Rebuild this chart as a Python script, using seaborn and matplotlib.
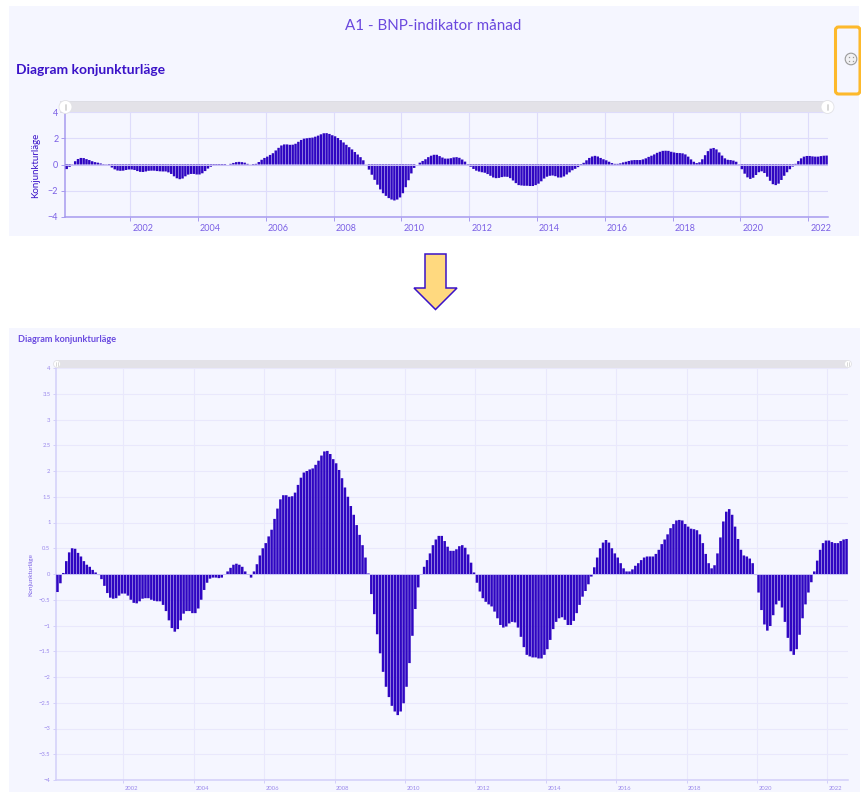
import matplotlib
matplotlib.use("Agg")
import matplotlib.pyplot as plt
import matplotlib.transforms as mtrans
from matplotlib.patches import Rectangle, Polygon, Circle, FancyBboxPatch
import numpy as np
import pandas as pd
import seaborn as sns

values_2000_2006 = [
 -0.35,-0.18,0.02,0.25,0.42,0.50,0.49,0.41,0.34,0.25,0.18,0.14,0.08,0.03,-0.02,-0.10,
 -0.23,-0.37,-0.46,-0.48,-0.47,-0.42,-0.38,-0.38,-0.42,-0.50,-0.56,-0.57,-0.53,-0.48,
 -0.47,-0.47,-0.50,-0.52,-0.53,-0.53,-0.60,-0.72,-0.90,-1.05,-1.12,-1.07,-0.90,-0.77,
 -0.72,-0.72,-0.76,-0.76,-0.67,-0.50,-0.31,-0.17,-0.09,-0.07,-0.07,-0.08,-0.07,0.00,
 0.05,0.12,0.18,0.20,0.18,0.14,0.05,-0.01,-0.07,0.05,0.19,0.36,0.50,0.60,0.73,0.86,1.07,1.27]
values_2006_2014 = [
 1.45,1.53,1.53,1.50,1.51,1.58,1.73,1.87,1.97,2.00,2.03,2.05,2.12,2.20,2.30,2.38,2.39,
 2.33,2.23,2.15,2.02,1.86,1.68,1.50,1.32,1.15,0.95,0.76,0.56,0.32,0.01,-0.39,-0.78,
 -1.17,-1.54,-1.90,-2.19,-2.39,-2.56,-2.67,-2.74,-2.67,-2.51,-2.19,-1.73,-1.20,-0.68,
 -0.26,0.00,0.14,0.27,0.40,0.56,0.67,0.74,0.74,0.64,0.53,0.45,0.45,0.48,0.54,0.56,0.51,
 0.38,0.22,0.03,-0.17,-0.34,-0.47,-0.54,-0.59,-0.63,-0.73,-0.86,-0.99,-1.04,-1.02,-0.96,
 -0.93,-0.94,-1.04,-1.22,-1.42,-1.57,-1.60,-1.62,-1.62,-1.64,-1.64,-1.57,-1.46,-1.28,
 -1.07,-0.93,-0.86]
values_2014_2022 = [
 -0.84,-0.89,-0.99,-0.99,-0.91,-0.76,-0.60,-0.44,-0.33,-0.20,-0.05,0.13,0.32,0.50,0.61,
 0.66,0.61,0.50,0.40,0.32,0.21,0.11,0.05,0.05,0.09,0.16,0.21,0.27,0.32,0.34,0.34,0.34,
 0.39,0.47,0.58,0.67,0.77,0.89,0.97,1.04,1.05,1.04,0.97,0.92,0.88,0.87,0.85,0.77,0.60,
 0.39,0.21,0.11,0.17,0.40,0.71,1.02,1.21,1.26,1.15,0.92,0.68,0.47,0.36,0.34,0.30,0.21,
 -0.02,-0.36,-0.70,-0.98,-1.10,-1.01,-0.80,-0.59,-0.52,-0.65,-0.93,-1.24,-1.50,-1.57,
 -1.46,-1.18,-0.86,-0.59,-0.36,-0.16,0.05,0.26,0.47,0.60,0.65,0.65,0.62,0.60,0.60,0.64,
 0.67,0.68]
values = values_2000_2006 + values_2006_2014 + values_2014_2022
months = pd.date_range("2000-02-01", periods=len(values), freq="MS").strftime("%Y-%m").tolist()
year_ticks = [str(y) for y in range(2002, 2023, 2)]
y_small = [-4, -2, 0, 2, 4]
y_large = [v / 2 for v in range(-8, 9)]
y_label = "Konjunkturläge"
page_title = "A1 - BNP-indikator månad"
panel_title = "Diagram konjunkturläge"

W, H = 862, 792
BAR = "#2F06C2"
sns.set_style("white")
plt.rcParams["font.family"] = ["Lato", "DejaVu Sans"]

df = pd.DataFrame({"month": months, "value": values})
fig = plt.figure(figsize=(W / 100, H / 100), dpi=100, facecolor="white")


def px_axes(l, t, r, b, **kw):
    return fig.add_axes([l / W, 1 - b / H, (r - l) / W, (b - t) / H], **kw)


bg = px_axes(0, 0, W, H, zorder=-1)
bg.set_xlim(0, W); bg.set_ylim(H, 0); bg.axis("off")
fg = px_axes(0, 0, W, H, zorder=5)
fg.set_xlim(0, W); fg.set_ylim(H, 0); fg.axis("off"); fg.patch.set_alpha(0)

bg.add_patch(Rectangle((9, 6), 850, 230, fc="#F5F6FF", ec="none"))
bg.add_patch(Rectangle((9, 328), 851, 464, fc="#F5F6FF", ec="none"))
bg.add_patch(Rectangle((60, 101), 770, 11, fc="#E3E2E8", ec="#D8D8DE", lw=0.5))
bg.add_patch(Rectangle((57, 360), 791, 8, fc="#E3E2E8", ec="none"))


def draw(rect, yticks, grid, line, tsize, tlen, txt, lab_dx, width):
    ax = px_axes(*rect, zorder=2)
    ax.patch.set_alpha(0)
    sns.barplot(data=df, x="month", y="value", color=BAR, saturation=1, width=width,
                linewidth=0, ax=ax, zorder=3)
    for p in ax.patches:
        p.set_snap(False)
    ax.set_xlim(-0.5, len(values) - 0.5)
    ax.set_ylim(-4, 4)
    ax.set_xlabel(""); ax.set_ylabel("")
    xt = [months.index(y + "-01") - 0.5 for y in year_ticks]
    ax.set_xticks(xt, labels=year_ticks)
    ax.set_yticks(yticks, labels=[num(v) for v in yticks])
    ax.grid(True, color=grid, lw=0.8, zorder=0)
    ax.set_axisbelow(True)
    ax.axhline(0, color="#C9C2F7", lw=0.7, zorder=4)
    sns.despine(ax=ax, top=True, right=True)
    for s in ("left", "bottom"):
        ax.spines[s].set_color(line); ax.spines[s].set_linewidth(1.1)
    ax.tick_params(axis="both", length=tlen, width=0.7, color=line, labelcolor=txt,
                   labelsize=tsize, pad=2, bottom=True, left=True)
    off = mtrans.ScaledTranslation(lab_dx / 100, 0, fig.dpi_scale_trans)
    for t in ax.get_xticklabels():
        t.set_ha("left")
        t.set_transform(t.get_transform() + off)
    return ax


def num(v):
    s = f"{abs(v):g}"
    return ("\u2212" + s) if v < 0 else s


draw((65.3, 112, 828, 217), y_small, "#DEDCFB", "#A79BEF", 6.5, 3, "#7A5FE5", 2, 0.86)
draw((56, 368, 848, 780), y_large, "#E9E8FC", "#D3CFF9", 4.2, 2, "#9A88EC", 1.5, 0.86)

fg.text(433, 25.5, page_title, color="#6A48DE", fontsize=10.9, ha="center", va="center")
fg.text(16, 70.5, panel_title, color="#3A12C8", fontsize=10, fontweight="bold", va="center")
fg.text(18, 340, panel_title, color="#6A4BE0", fontsize=6.6, fontweight="bold", va="center")
fg.text(36, 165, y_label, color="#3A12C8", fontsize=7, rotation=90, ha="center", va="center")
fg.text(31, 574, y_label, color="#7A5FE5", fontsize=4.6, rotation=90, ha="center", va="center")

for x, y, r in [(65.5, 107, 6.5), (827.5, 107, 6.5), (57, 364, 3.5), (848, 364, 3.5)]:
    fg.add_patch(Circle((x, y), r, fc="white", ec="#E2E2E6", lw=0.6))
    fg.plot([x - r * 0.15] * 2, [y - r * 0.45, y + r * 0.45], color="#BBBBBB", lw=0.4)
    fg.plot([x + r * 0.15] * 2, [y - r * 0.45, y + r * 0.45], color="#BBBBBB", lw=0.4)

fg.add_patch(FancyBboxPatch((835.5, 27), 24.5, 67, boxstyle="round,pad=0,rounding_size=3",
                            fc="none", ec="#FDB92C", lw=2.2))
fg.add_patch(Circle((851, 59), 5.8, fc="#F1F1F4", ec="#9A9A9A", lw=0.8))
for dx in (-2.3, 2.3):
    for dy in (-2.3, 2.3):
        fg.plot([851 + dx], [59 + dy], marker="s", ms=0.9, color="#9A9A9A", mew=0)

fg.add_patch(Polygon([(425, 254), (446, 254), (446, 288), (457, 288), (435.5, 309.5),
                      (414, 288), (425, 288)], closed=True, fc="#FFD97F", ec="#3A12C8", lw=1.1))

fig.savefig("out.png", dpi=100, facecolor="white")
